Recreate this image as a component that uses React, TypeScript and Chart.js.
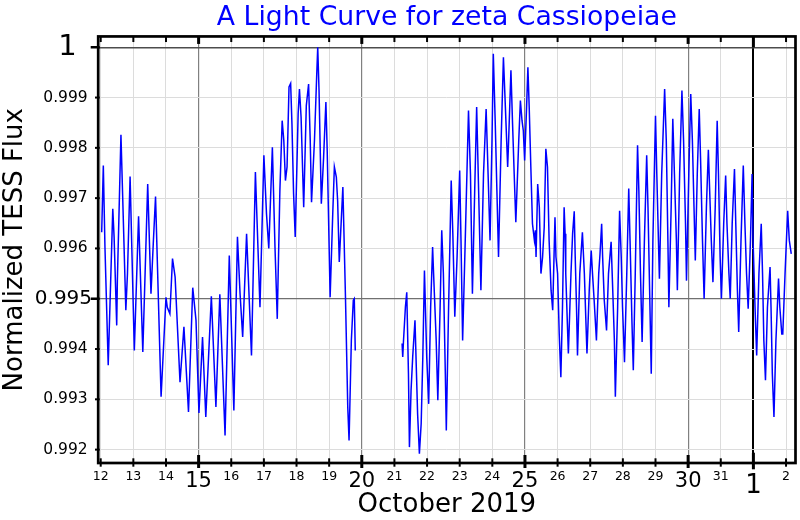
import React, { useEffect, useRef } from 'react';
import { Chart, registerables } from 'chart.js';

Chart.register(...registerables);

const FONT = 'DejaVu Sans';

const titleText = 'A Light Curve for zeta Cassiopeiae';
const yAxisTitle = 'Normalized TESS Flux';
const xAxisTitle = 'October 2019';

// time in days of October 2019 (Nov 1 = 32)
const days = [
  12.03, 12.08, 12.13, 12.23, 12.37, 12.41, 12.49, 12.51, 12.62, 12.77, 12.82, 12.90,
  13.03, 13.16, 13.29, 13.44, 13.54, 13.61, 13.68, 13.85, 14.00, 14.04, 14.12, 14.20,
  14.28, 14.43, 14.55, 14.69, 14.82, 14.92, 15.01, 15.12, 15.22, 15.39, 15.53, 15.65,
  15.81, 15.94, 16.08, 16.19, 16.27, 16.35, 16.47, 16.62, 16.74, 16.88, 17.00, 17.08,
  17.15, 17.26, 17.34, 17.41, 17.49, 17.56, 17.61, 17.66, 17.71, 17.77, 17.82, 17.86,
  17.91, 17.96, 18.05, 18.09, 18.14, 18.22, 18.30, 18.37, 18.42, 18.46, 18.55, 18.62,
  18.65, 18.69, 18.76, 18.83, 18.90, 18.94, 19.03, 19.11, 19.16, 19.22, 19.26, 19.31,
  19.42, 19.50, 19.57, 19.61, 19.68, 19.74, 19.77, 19.80,
  20.5,
  21.235, 21.255, 21.276, 21.337, 21.378, 21.43, 21.46, 21.51, 21.56, 21.63, 21.71, 21.765,
  21.82, 21.87, 21.92, 21.99, 22.05, 22.11, 22.17, 22.20, 22.28, 22.33, 22.40, 22.45,
  22.50, 22.56, 22.59, 22.66, 22.74, 22.79, 22.85, 22.92, 23.00, 23.04, 23.09, 23.17,
  23.27, 23.33, 23.39, 23.46, 23.52, 23.58, 23.65, 23.73, 23.81, 23.87, 23.93, 23.99,
  24.03, 24.09, 24.14, 24.19, 24.27, 24.34, 24.40, 24.47, 24.50, 24.57, 24.62, 24.67,
  24.72, 24.81, 24.86, 24.91, 24.95, 24.99, 25.05, 25.09, 25.13, 25.18, 25.23, 25.29,
  25.32, 25.34, 25.39, 25.44, 25.49, 25.54, 25.59, 25.64, 25.69, 25.74, 25.80, 25.85,
  25.92, 25.95, 26.00, 26.05, 26.10, 26.15, 26.20, 26.23, 26.25, 26.30, 26.33, 26.41,
  26.46, 26.51, 26.54, 26.58, 26.61, 26.68, 26.76, 26.82, 26.87, 26.90, 26.97, 27.03,
  27.07, 27.12, 27.19, 27.26, 27.30, 27.35, 27.38, 27.43, 27.50, 27.56, 27.64, 27.69,
  27.74, 27.77, 27.84, 27.90, 27.95, 27.99, 28.05, 28.12, 28.18, 28.22, 28.28, 28.32,
  28.38, 28.45, 28.49, 28.54, 28.59, 28.66, 28.73, 28.77, 28.82, 28.87, 28.92, 29.00,
  29.04, 29.09, 29.12, 29.19, 29.28, 29.33, 29.38, 29.41, 29.48, 29.53, 29.58, 29.64,
  29.67, 29.74, 29.81, 29.86, 29.92, 29.95, 30.02, 30.08, 30.13, 30.18, 30.22, 30.28,
  30.34, 30.38, 30.44, 30.49, 30.56, 30.62, 30.66, 30.71, 30.76, 30.83, 30.89, 30.93,
  30.98, 31.02, 31.09, 31.15, 31.19, 31.25, 31.29, 31.35, 31.42, 31.46, 31.51, 31.55,
  31.62, 31.69, 31.74, 31.79, 31.84, 31.91, 31.96, 31.99, 32.05, 32.10, 32.17, 32.24,
  32.28, 32.32, 32.37, 32.43, 32.51, 32.54, 32.58, 32.63, 32.69, 32.77, 32.81, 32.87,
  32.90, 32.97, 33.05, 33.10, 33.16,
];

const flux = [
  0.99632, 0.99765, 0.99603, 0.99368, 0.99679, 0.99623, 0.99447, 0.99536, 0.99826, 0.99477, 0.99550, 0.99743,
  0.99397, 0.99664, 0.99394, 0.99728, 0.99510, 0.99609, 0.99703, 0.99305, 0.99503, 0.99483, 0.99470, 0.99580,
  0.99543, 0.99334, 0.99444, 0.99275, 0.99522, 0.99457, 0.99273, 0.99424, 0.99265, 0.99505, 0.99285, 0.99509,
  0.99228, 0.99586, 0.99278, 0.99623, 0.99510, 0.99424, 0.99629, 0.99387, 0.99752, 0.99483, 0.99785, 0.99669,
  0.99600, 0.99801, 0.99603, 0.99460, 0.99715, 0.99854, 0.99815, 0.99735, 0.99762, 0.99921, 0.99928, 0.99848,
  0.99709, 0.99623, 0.99868, 0.99917, 0.99861, 0.99682, 0.99884, 0.99927, 0.99815, 0.99692, 0.99815, 0.99947,
  1.00000, 0.99914, 0.99689, 0.99781, 0.99891, 0.99795, 0.99503, 0.99669, 0.99762, 0.99742, 0.99695, 0.99573,
  0.99722, 0.99503, 0.99285, 0.99218, 0.99417, 0.99497, 0.99500, 0.99397,
  null,
  0.99411, 0.99384, 0.99414, 0.99484, 0.99513, 0.99351, 0.99205, 0.99318, 0.99384, 0.99457, 0.99272, 0.99192,
  0.99252, 0.99384, 0.99556, 0.99384, 0.99291, 0.99483, 0.99603, 0.99550, 0.99417, 0.99298, 0.99483, 0.99636,
  0.99550, 0.99351, 0.99238, 0.99483, 0.99735, 0.99629, 0.99464, 0.99583, 0.99755, 0.99616, 0.99417, 0.99616,
  0.99874, 0.99748, 0.99510, 0.99715, 0.99881, 0.99715, 0.99517, 0.99748, 0.99877, 0.99748, 0.99616, 0.99815,
  0.99987, 0.99848, 0.99715, 0.99583, 0.99815, 0.99980, 0.99881, 0.99762, 0.99815, 0.99954, 0.99848, 0.99748,
  0.99652, 0.99815, 0.99894, 0.99854, 0.99834, 0.99775, 0.99881, 0.99960, 0.99881, 0.99762, 0.99649, 0.99616,
  0.99636, 0.99583, 0.99728, 0.99682, 0.99550, 0.99583, 0.99642, 0.99798, 0.99762, 0.99616, 0.99517, 0.99477,
  0.99662, 0.99583, 0.99550, 0.99430, 0.99344, 0.99483, 0.99682, 0.99629, 0.99550, 0.99450, 0.99391, 0.99550,
  0.99629, 0.99674, 0.99583, 0.99483, 0.99387, 0.99550, 0.99632, 0.99550, 0.99450, 0.99391, 0.99517, 0.99596,
  0.99550, 0.99497, 0.99417, 0.99550, 0.99589, 0.99649, 0.99583, 0.99497, 0.99437, 0.99550, 0.99613, 0.99517,
  0.99417, 0.99305, 0.99483, 0.99675, 0.99583, 0.99483, 0.99374, 0.99550, 0.99719, 0.99616, 0.99450, 0.99358,
  0.99550, 0.99805, 0.99715, 0.99550, 0.99414, 0.99616, 0.99785, 0.99682, 0.99517, 0.99351, 0.99616, 0.99864,
  0.99748, 0.99616, 0.99540, 0.99748, 0.99917, 0.99815, 0.99616, 0.99483, 0.99682, 0.99858, 0.99748, 0.99616,
  0.99517, 0.99748, 0.99914, 0.99815, 0.99649, 0.99536, 0.99748, 0.99907, 0.99815, 0.99682, 0.99576, 0.99748,
  0.99877, 0.99781, 0.99616, 0.99500, 0.99682, 0.99796, 0.99715, 0.99616, 0.99533, 0.99682, 0.99854, 0.99748,
  0.99583, 0.99500, 0.99649, 0.99745, 0.99649, 0.99550, 0.99500, 0.99649, 0.99758, 0.99649, 0.99517, 0.99434,
  0.99616, 0.99765, 0.99649, 0.99550, 0.99480, 0.99616, 0.99748, 0.99616, 0.99483, 0.99387, 0.99550, 0.99649,
  0.99550, 0.99417, 0.99338, 0.99483, 0.99563, 0.99483, 0.99351, 0.99265, 0.99417, 0.99540, 0.99483, 0.99430,
  0.99430, 0.99550, 0.99675, 0.99616, 0.99589,
];

const xTicks = [12, 13, 14, 15, 16, 17, 18, 19, 20, 21, 22, 23, 24, 25, 26, 27, 28, 29, 30, 31, 32, 33];
const xTickLabels = ['12', '13', '14', '15', '16', '17', '18', '19', '20', '21', '22', '23', '24', '25', '26', '27', '28', '29', '30', '31', '1', '2'];
const xMajorTicks = [15, 20, 25, 30];
const xMonthTicks = [32];

const yTicks = [0.992, 0.993, 0.994, 0.995, 0.996, 0.997, 0.998, 0.999, 1];
const yTickLabels = ['0.992', '0.993', '0.994', '0.995', '0.996', '0.997', '0.998', '0.999', '1'];
const yMidTicks = [0.995];
const yTopTicks = [1];

const X_MIN = 11.923;
const X_MAX = 33.29;
const Y_MIN = 0.991734;
const Y_MAX = 1.000215;

const near = (a: number, list: number[]) => list.some((b) => Math.abs(a - b) < 1e-9);
const yLabelFor = (v: number) => yTickLabels[yTicks.findIndex((t) => Math.abs(t - v) < 1e-9)];
const yMinorTicks = yTicks.filter((v) => !near(v, yMidTicks) && !near(v, yTopTicks));

const frameTicks = {
  id: 'frameTicks',
  afterDraw(chart: any) {
    const { ctx, chartArea, scales } = chart;
    const { left, right, top, bottom } = chartArea;
    const x = scales.x;
    const y = scales.y;
    const line = (x1: number, y1: number, x2: number, y2: number) => {
      ctx.beginPath();
      ctx.moveTo(x1, y1);
      ctx.lineTo(x2, y2);
      ctx.stroke();
    };
    ctx.save();
    ctx.strokeStyle = '#000000';
    ctx.lineCap = 'butt';
    xTicks.forEach((v) => {
      const px = x.getPixelForValue(v);
      const isMonth = near(v, xMonthTicks);
      const isMajor = near(v, xMajorTicks);
      ctx.lineWidth = isMonth || isMajor ? 3 : 2;
      const inLen = isMonth ? 10.3 : isMajor ? 8 : 4.7;
      const outLen = isMonth ? 6.3 : isMajor ? 5 : 3.7;
      line(px, bottom - inLen, px, bottom + outLen);
      const topLen = isMonth ? 11 : isMajor ? 7.5 : 5.6;
      line(px, top, px, top + topLen);
    });
    yTicks.forEach((v) => {
      const py = y.getPixelForValue(v);
      const isBig = near(v, yTopTicks) || near(v, yMidTicks);
      ctx.lineWidth = isBig ? 2.5 : 2;
      line(left - (isBig ? 7.5 : 3.2), py, left + 1.5, py);
    });
    ctx.lineWidth = 2.7;
    ctx.strokeRect(left, top, right - left, bottom - top);
    ctx.restore();
  },
};

const noPad = (scale: any) => {
  scale.paddingTop = 0;
  scale.paddingBottom = 0;
  scale.paddingLeft = 0;
  scale.paddingRight = 0;
};

// one left axis per label style; the inner ones take no width and place their labels with mirror + offset
const sideAxis = (
  values: number[],
  weight: number,
  width: number,
  mirror: boolean,
  padding: number,
  size: number,
  gridColor: string,
  gridWidth: number,
) => ({
  type: 'linear',
  position: 'left',
  weight,
  min: Y_MIN,
  max: Y_MAX,
  afterBuildTicks: (scale: any) => {
    scale.ticks = values.map((v) => ({ value: v }));
  },
  afterFit: (scale: any) => {
    scale.width = width;
    noPad(scale);
  },
  border: { display: false },
  grid: { drawTicks: false, color: gridColor, lineWidth: gridWidth },
  ticks: {
    autoSkip: false,
    mirror,
    crossAlign: mirror ? 'far' : 'near',
    padding,
    color: '#000000',
    callback: (v: any) => yLabelFor(Number(v)),
    font: { family: FONT, size, lineHeight: 1.0 },
  },
});

export default function App() {
  const canvasRef = useRef<HTMLCanvasElement | null>(null);

  useEffect(() => {
    const canvas = canvasRef.current;
    if (!canvas) return;
    const points = days.map((d, i) => ({ x: d, y: flux[i] }));
    const yMain: any = sideAxis(yMinorTicks, 2, 98.2, false, 10.5, 15.5, '#dcdcdc', 1);
    yMain.title = {
      display: true,
      text: yAxisTitle,
      color: '#000000',
      font: { family: FONT, size: 26, lineHeight: 1.154 },
      padding: 0,
    };
    // "0.995": 20px text, right edge near x=92
    const yMid: any = sideAxis(yMidTicks, 1, 0, true, -63.4, 20, '#707070', 1.2);
    // "1": 29px text, right edge near x=76.6
    const yTop: any = sideAxis(yTopTicks, 0, 0, true, -40, 29, '#4d4d4d', 1.5);
    const chart = new Chart(canvas, {
      type: 'line',
      data: {
        datasets: [
          {
            data: points as any,
            borderColor: '#0000ff',
            borderWidth: 1.5,
            pointRadius: 0,
            tension: 0,
            fill: false,
            spanGaps: false,
            yAxisID: 'y',
          },
        ],
      },
      plugins: [frameTicks],
      options: {
        animation: false,
        responsive: false,
        maintainAspectRatio: false,
        devicePixelRatio: 1,
        layout: { padding: { left: 0, top: 0, right: 4.5, bottom: 0 } },
        plugins: {
          legend: { display: false },
          tooltip: { enabled: false },
          title: {
            display: true,
            text: titleText,
            color: '#0000ff',
            fullSize: false,
            font: { family: FONT, size: 26.7, weight: 'normal', lineHeight: 1.2 },
            padding: { top: 1.7, bottom: 2.7 },
          },
        },
        scales: {
          x: {
            type: 'linear',
            min: X_MIN,
            max: X_MAX,
            afterBuildTicks: (scale: any) => {
              scale.ticks = xTicks.map((v) => ({ value: v }));
            },
            afterFit: (scale: any) => {
              scale.height = 57;
              noPad(scale);
            },
            border: { display: false },
            grid: {
              drawTicks: false,
              color: (ctx: any) => {
                const v = ctx.tick ? ctx.tick.value : 0;
                if (near(v, xMonthTicks)) return '#000000';
                if (near(v, xMajorTicks)) return '#808080';
                return '#dcdcdc';
              },
              lineWidth: (ctx: any) => {
                const v = ctx.tick ? ctx.tick.value : 0;
                if (near(v, xMonthTicks)) return 2;
                if (near(v, xMajorTicks)) return 1.2;
                return 1;
              },
            },
            ticks: {
              autoSkip: false,
              maxRotation: 0,
              minRotation: 0,
              padding: 3,
              color: '#000000',
              callback: (_v: any, i: number) => xTickLabels[i],
              font: (ctx: any) => {
                const v = ctx.tick ? ctx.tick.value : 12;
                if (near(v, xMonthTicks)) return { family: FONT, size: 26, lineHeight: 1.59 };
                if (near(v, xMajorTicks)) return { family: FONT, size: 21, lineHeight: 1.524 };
                return { family: FONT, size: 12.5, lineHeight: 1.68 };
              },
            },
            title: {
              display: true,
              text: xAxisTitle,
              color: '#000000',
              font: { family: FONT, size: 26, lineHeight: 1.13 },
              padding: 0,
            },
          },
          y: yMain,
          yMid,
          yTop,
        },
      },
    });
    return () => {
      chart.destroy();
    };
  }, []);

  return (
    <div style={{ position: 'fixed', left: 0, top: 0, width: 800, height: 520, background: '#ffffff' }}>
      <canvas ref={canvasRef} width={800} height={520} style={{ width: 800, height: 520, display: 'block' }} />
    </div>
  );
}
